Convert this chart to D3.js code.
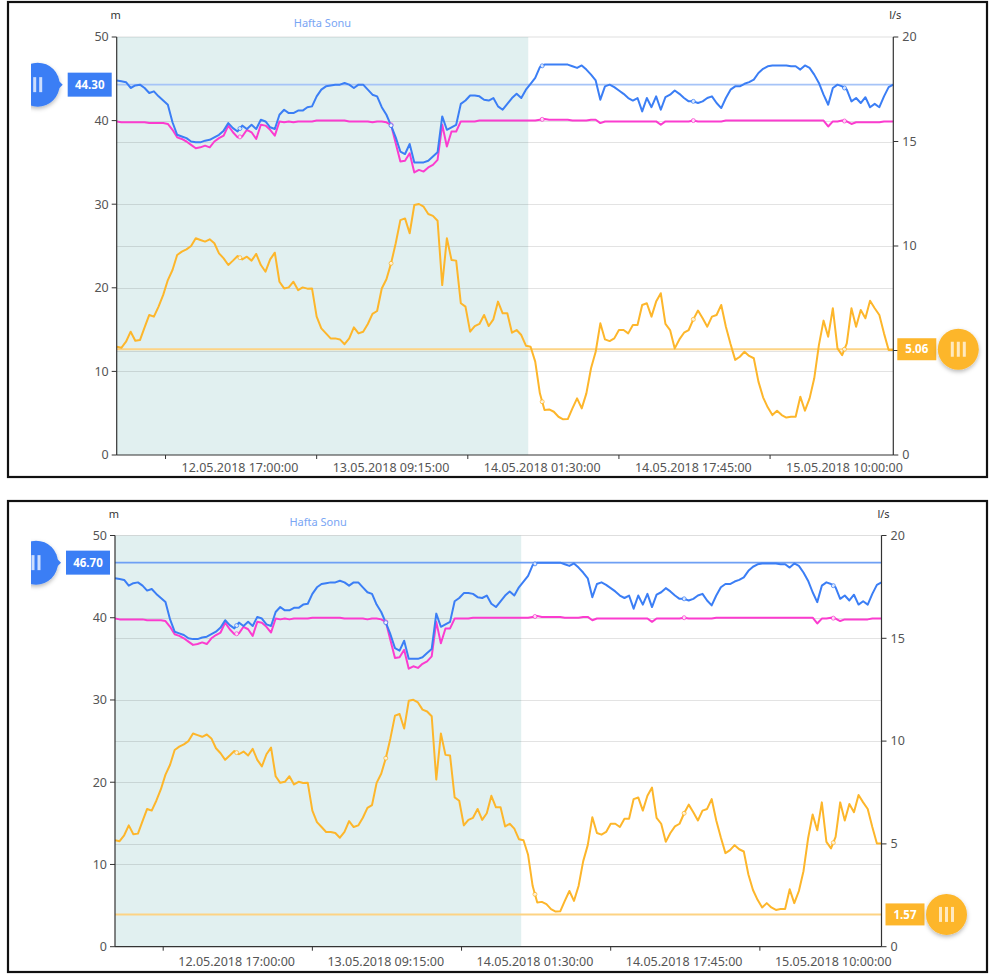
<!DOCTYPE html>
<html>
<head>
<meta charset="utf-8">
<script src="https://cdn.jsdelivr.net/npm/d3@7"></script>
<style>
  html, body { margin: 0; padding: 0; background: #fff; }
  svg { display: block; }
  text { font-family: "Noto Sans", "Open Sans", sans-serif; }
</style>
</head>
<body>
<svg id="chart" width="990" height="976"></svg>
<script>
// Readings every 30 minutes, starting 12.05.2018 03:45
const seriesStart = "12.05.2018 03:45:00";
const stepMinutes = 30;

// Water level at the tank inlet (m)
const levelInlet = [
  44.8, 44.7, 44.6, 43.9, 44.2, 44.3, 43.9, 43.3, 43.5, 42.9,
  42.4, 41.9, 39.8, 38.3, 38.1, 37.9, 37.5, 37.4, 37.4, 37.6,
  37.7, 38.0, 38.3, 38.8, 39.7, 39.1, 38.7, 39.4, 39.0, 39.5,
  39.0, 40.1, 39.9, 39.2, 39.0, 40.7, 41.3, 40.9, 40.9, 41.2,
  41.2, 41.6, 41.7, 42.9, 43.7, 44.1, 44.2, 44.3, 44.3, 44.5,
  44.3, 43.9, 44.3, 44.3, 43.7, 43.1, 42.9, 41.6, 40.7, 39.4,
  38.0, 36.3, 36.0, 37.2, 35.0, 35.0, 35.0, 35.2, 35.7, 36.2,
  40.5, 38.9, 39.2, 39.5, 42.0, 42.4, 43.0, 43.0, 42.9, 42.5,
  42.4, 42.7, 41.7, 41.3, 42.0, 42.7, 43.2, 42.7, 43.7, 44.4,
  45.1, 46.4, 46.7, 46.7, 46.7, 46.7, 46.7, 46.7, 46.5, 46.3,
  46.6, 46.1, 45.5, 44.8, 42.5, 44.1, 44.3, 44.0, 43.6, 43.2,
  42.7, 42.4, 42.7, 41.1, 42.7, 41.6, 42.9, 41.3, 42.8, 43.1,
  43.6, 43.2, 42.7, 42.3, 42.3, 42.1, 42.3, 42.7, 42.9, 42.1,
  41.5, 42.7, 43.7, 44.1, 44.1, 44.4, 44.6, 44.9, 45.7, 46.2,
  46.5, 46.6, 46.6, 46.6, 46.6, 46.5, 46.5, 46.1, 46.6, 46.3,
  45.5, 44.5, 43.1, 41.9, 43.9, 44.3, 44.1, 43.7, 42.3, 42.7,
  42.1, 42.8, 41.6, 42.0, 41.6, 42.9, 44.0, 44.3
];

// Water level at the outlet (m)
const levelOutlet = [
  39.9, 39.8, 39.8, 39.8, 39.8, 39.8, 39.8, 39.7, 39.7, 39.7,
  39.7, 39.6, 38.9, 38.0, 37.8, 37.5, 37.1, 36.7, 36.8, 37.0,
  36.8, 37.5, 37.9, 38.2, 39.4, 38.6, 38.0, 38.1, 38.9, 38.6,
  37.8, 39.5, 39.4, 38.9, 38.2, 39.9, 39.8, 39.9, 39.8, 39.9,
  39.9, 39.9, 39.9, 40.0, 40.0, 40.0, 40.0, 40.0, 40.0, 40.0,
  39.9, 39.9, 39.9, 39.9, 39.9, 39.8, 39.9, 39.9, 39.8, 39.5,
  37.3, 35.1, 35.2, 36.1, 33.8, 34.1, 33.9, 34.4, 34.7, 35.3,
  39.5, 36.9, 38.7, 38.7, 39.9, 39.9, 39.9, 39.9, 40.0, 40.0,
  40.0, 40.0, 40.0, 40.0, 40.0, 40.0, 40.0, 40.0, 40.0, 40.0,
  40.0, 40.1, 40.2, 40.1, 40.1, 40.1, 40.1, 40.1, 40.0, 40.0,
  40.0, 40.0, 40.1, 40.1, 39.7, 39.9, 39.9, 39.9, 39.9, 39.9,
  39.9, 39.9, 39.9, 39.9, 39.9, 39.9, 39.9, 39.5, 39.9, 39.9,
  39.9, 39.9, 39.9, 39.9, 40.0, 39.9, 39.9, 39.9, 39.9, 39.9,
  39.9, 40.0, 40.0, 40.0, 40.0, 40.0, 40.0, 40.0, 40.0, 40.0,
  40.0, 40.0, 40.0, 40.0, 40.0, 40.0, 40.0, 40.0, 40.0, 40.0,
  40.0, 40.0, 40.0, 39.3, 39.9, 39.9, 40.0, 39.9, 39.6, 39.8,
  39.8, 39.8, 39.8, 39.8, 39.8, 39.9, 39.9, 39.9
];

// Flow (l/s)
const flow = [
  5.18, 5.13, 5.42, 5.90, 5.47, 5.50, 6.11, 6.70, 6.62, 7.10,
  7.66, 8.37, 8.85, 9.57, 9.73, 9.84, 10.0, 10.37, 10.29, 10.21,
  10.32, 10.13, 9.65, 9.41, 9.09, 9.30, 9.52, 9.36, 9.49, 9.30,
  9.62, 9.09, 8.77, 9.36, 9.68, 8.29, 7.97, 8.02, 8.29, 7.89,
  8.02, 7.96, 7.97, 6.62, 6.06, 5.82, 5.58, 5.58, 5.53, 5.30,
  5.58, 6.11, 5.82, 5.90, 6.27, 6.75, 6.89, 7.97, 8.41, 9.17,
  10.13, 11.24, 11.32, 10.61, 11.96, 12.01, 11.88, 11.53, 11.44, 11.21,
  8.13, 10.37, 9.33, 9.30, 7.26, 7.10, 5.90, 6.17, 6.27, 6.70,
  6.17, 6.49, 7.34, 6.78, 6.78, 5.85, 5.98, 5.74, 5.23, 5.18,
  4.47, 2.95, 2.15, 2.18, 2.07, 1.83, 1.71, 1.72, 2.23, 2.71,
  2.23, 2.95, 4.15, 4.94, 6.30, 5.53, 5.45, 5.58, 5.98, 5.98,
  5.82, 6.22, 6.22, 7.18, 7.26, 6.62, 7.34, 7.74, 6.27, 5.98,
  5.10, 5.53, 5.85, 5.98, 6.49, 6.91, 6.54, 6.14, 6.62, 6.70,
  7.18, 6.14, 5.31, 4.55, 4.70, 4.94, 4.74, 4.63, 3.51, 2.76,
  2.28, 1.91, 2.12, 1.91, 1.79, 1.83, 1.83, 2.79, 2.12, 2.71,
  3.67, 5.26, 6.43, 5.66, 7.02, 5.10, 4.78, 5.34, 7.02, 6.14,
  6.94, 6.54, 7.38, 7.02, 6.70, 5.82, 5.02, 5.02
];

// Axis annotations
const timeLabels = ["12.05.2018 17:00:00", "13.05.2018 09:15:00", "14.05.2018 01:30:00",
                    "14.05.2018 17:45:00", "15.05.2018 10:00:00"];
const levelTicks = [0, 10, 20, 30, 40, 50];
const flowTicks = [0, 5, 10, 15, 20];
const levelUnit = "m";
const flowUnit = "l/s";

// Weekend band
const weekendLabel = "Hafta Sonu";
const weekendRange = ["12.05.2018 03:45:00", "14.05.2018 00:00:00"];

// Alarm limits set by the draggable handles, one per panel
const levelLimits = [44.30, 46.70];
const flowLimits = [5.06, 1.57];

// ---------------------------------------------------------------
const parseTime = d3.timeParse("%d.%m.%Y %H:%M:%S");
const t0 = parseTime(seriesStart);
const times = levelInlet.map((_, i) => d3.timeMinute.offset(t0, i * stepMinutes));

const COLORS = {
  inlet: "#3b7ef5",
  outlet: "#fb3ccf",
  flow: "#fdb62b",
  handleBlue: "#3b7ef5",
  handleOrange: "#fdb62b",
  band: "#e1f0f0",
  axis: "#333",
  tick: "#555"
};

const panels = [
  { frame: { x: 8, y: 2, w: 979, h: 475 }, plot: { l: 116.7, r: 893.3, t: 37, b: 455 },
    xLabelDy: 17, levelLineColor: "#a6c4f7" },
  { frame: { x: 8, y: 501, w: 979, h: 471 }, plot: { l: 115, r: 881.5, t: 535.5, b: 946.7 },
    xLabelDy: 19, levelLineColor: "#6e9ff4" }
];

const svg = d3.select("#chart");
const defs = svg.append("defs");
const shadow = defs.append("filter").attr("id", "handleShadow")
  .attr("x", "-50%").attr("y", "-50%").attr("width", "200%").attr("height", "200%");
shadow.append("feDropShadow").attr("dx", 0).attr("dy", 2).attr("stdDeviation", 2.2)
  .attr("flood-color", "#000").attr("flood-opacity", 0.28);

function valueAt(series, t) {
  const i = d3.bisector(d => d).right(times, t);
  if (i <= 0) return series[0];
  if (i >= times.length) return series[series.length - 1];
  const a = times[i - 1], b = times[i];
  const f = (t - a) / (b - a);
  return series[i - 1] + f * (series[i] - series[i - 1]);
}

panels.forEach((p, k) => {
  const { l, r, t, b } = p.plot;
  const g = svg.append("g");

  // Frame around the panel
  g.append("rect")
    .attr("x", p.frame.x).attr("y", p.frame.y)
    .attr("width", p.frame.w).attr("height", p.frame.h)
    .attr("fill", "#fff").attr("stroke", "#111").attr("stroke-width", 2.2);

  const x = d3.scaleTime().domain([times[0], times[times.length - 1]]).range([l, r]);
  const yL = d3.scaleLinear().domain([0, 50]).range([b, t]);
  const yR = d3.scaleLinear().domain([0, 20]).range([b, t]);

  const clipId = "plotClip" + k;
  defs.append("clipPath").attr("id", clipId)
    .append("rect").attr("x", l).attr("y", t - 2).attr("width", r - l).attr("height", b - t + 4);

  // Weekend band
  const w0 = parseTime(weekendRange[0]), w1 = parseTime(weekendRange[1]);
  g.append("rect")
    .attr("x", x(w0)).attr("y", t)
    .attr("width", x(w1) - x(w0)).attr("height", b - t)
    .attr("fill", COLORS.band);
  g.append("text")
    .attr("x", (x(w0) + x(w1)) / 2).attr("y", t - 10)
    .attr("text-anchor", "middle")
    .attr("font-size", 11).attr("fill", "#79a5f4")
    .text(weekendLabel);

  // Grid lines for both axes
  const grid = g.append("g").attr("stroke", "rgba(0,0,0,0.11)").attr("stroke-width", 1);
  levelTicks.filter(v => v > 0 && v < 50).forEach(v => {
    grid.append("line").attr("x1", l).attr("x2", r)
      .attr("y1", Math.round(yL(v)) + 0.5).attr("y2", Math.round(yL(v)) + 0.5);
  });
  flowTicks.filter(v => v > 0 && v < 20).forEach(v => {
    grid.append("line").attr("x1", l).attr("x2", r)
      .attr("y1", Math.round(yR(v)) + 0.5).attr("y2", Math.round(yR(v)) + 0.5);
  });
  g.append("line").attr("x1", l).attr("x2", r).attr("y1", t).attr("y2", t)
    .attr("stroke", "rgba(0,0,0,0.13)").attr("stroke-width", 1);

  // Limit lines
  g.append("line").attr("x1", l).attr("x2", r)
    .attr("y1", yL(levelLimits[k])).attr("y2", yL(levelLimits[k]))
    .attr("stroke", p.levelLineColor).attr("stroke-width", 1.6);
  g.append("line").attr("x1", l).attr("x2", r)
    .attr("y1", yR(flowLimits[k])).attr("y2", yR(flowLimits[k]))
    .attr("stroke", "#fdd384").attr("stroke-width", 2);

  // Series
  const plotG = g.append("g").attr("clip-path", `url(#${clipId})`);
  const lineL = d3.line().x((d, i) => x(times[i])).y(d => yL(d));
  const lineR = d3.line().x((d, i) => x(times[i])).y(d => yR(d));
  const series = [
    { data: flow, gen: lineR, scale: yR, color: COLORS.flow },
    { data: levelOutlet, gen: lineL, scale: yL, color: COLORS.outlet },
    { data: levelInlet, gen: lineL, scale: yL, color: COLORS.inlet }
  ];
  series.forEach(s => {
    plotG.append("path").datum(s.data)
      .attr("d", s.gen)
      .attr("fill", "none").attr("stroke", s.color)
      .attr("stroke-width", 2).attr("stroke-linejoin", "round");
  });
  // Small hollow symbols at the labelled timestamps
  series.forEach(s => {
    timeLabels.forEach(lbl => {
      const tt = parseTime(lbl);
      plotG.append("circle")
        .attr("cx", x(tt)).attr("cy", s.scale(valueAt(s.data, tt)))
        .attr("r", 2).attr("fill", "#fff")
        .attr("stroke", s.color).attr("stroke-width", 1).attr("opacity", 0.8);
    });
  });

  const fy = yR(flowLimits[k]);

  // Left axis
  const ax = g.append("g").attr("font-size", 12.5).attr("fill", COLORS.tick);
  ax.append("line").attr("x1", l).attr("x2", l).attr("y1", t).attr("y2", b)
    .attr("stroke", COLORS.axis).attr("stroke-width", 1.2);
  levelTicks.forEach(v => {
    ax.append("line").attr("x1", l - 5).attr("x2", l).attr("y1", yL(v)).attr("y2", yL(v))
      .attr("stroke", COLORS.axis);
    ax.append("text").attr("x", l - 8).attr("y", yL(v)).attr("dy", "0.35em")
      .attr("text-anchor", "end").text(v);
  });
  ax.append("text").attr("x", l - 1).attr("y", t - 18)
    .attr("text-anchor", "middle").attr("font-size", 11).attr("fill", "#333").text(levelUnit);

  // Right axis (a label hidden under the flow handle box is left out)
  ax.append("line").attr("x1", r).attr("x2", r).attr("y1", t).attr("y2", b)
    .attr("stroke", COLORS.axis).attr("stroke-width", 1.2);
  flowTicks.forEach(v => {
    ax.append("line").attr("x1", r).attr("x2", r + 5).attr("y1", yR(v)).attr("y2", yR(v))
      .attr("stroke", COLORS.axis);
    if (Math.abs(yR(v) - fy) > 14) {
      ax.append("text").attr("x", r + 9).attr("y", yR(v)).attr("dy", "0.35em")
        .attr("text-anchor", "start").text(v);
    }
  });
  ax.append("text").attr("x", r + 2).attr("y", t - 18)
    .attr("text-anchor", "middle").attr("font-size", 11).attr("fill", "#333").text(flowUnit);

  // Time axis: labels at their timestamps, tick marks halfway between them
  ax.append("line").attr("x1", l).attr("x2", r).attr("y1", b).attr("y2", b)
    .attr("stroke", COLORS.axis).attr("stroke-width", 1.2);
  timeLabels.forEach(lbl => {
    const tt = parseTime(lbl);
    const tickT = d3.timeHour.offset(tt, -8);
    ax.append("line").attr("x1", x(tickT)).attr("x2", x(tickT)).attr("y1", b).attr("y2", b + 4)
      .attr("stroke", COLORS.axis);
    ax.append("text").attr("x", x(tt)).attr("y", b + p.xLabelDy)
      .attr("text-anchor", "middle").text(lbl);
  });

  // Level limit handle (left)
  const clipH = "handleClip" + k;
  defs.append("clipPath").attr("id", clipH)
    .append("rect").attr("x", 31).attr("y", p.frame.y).attr("width", 100).attr("height", p.frame.h);
  const hy = yL(levelLimits[k]);
  const hb = g.append("g").attr("clip-path", `url(#${clipH})`);
  const hcx = l - 79;
  hb.append("circle").attr("cx", hcx).attr("cy", hy).attr("r", 22)
    .attr("fill", COLORS.handleBlue).attr("filter", "url(#handleShadow)");
  hb.append("path")
    .attr("d", `M${hcx + 20},${hy - 5} L${hcx + 25},${hy} L${hcx + 20},${hy + 5} Z`)
    .attr("fill", COLORS.handleBlue);
  [-9, -3, 3].forEach(dx => {
    hb.append("rect").attr("x", hcx + dx - 1.5).attr("y", hy - 7.5)
      .attr("width", 3).attr("height", 15).attr("fill", "rgba(255,255,255,0.75)");
  });
  g.append("rect").attr("x", l - 49).attr("y", hy - 12).attr("width", 44).attr("height", 24)
    .attr("fill", COLORS.handleBlue);
  g.append("text").attr("x", l - 27).attr("y", hy).attr("dy", "0.36em")
    .attr("text-anchor", "middle").attr("font-size", 11.5).attr("font-weight", "bold")
    .attr("fill", "#fff").text(levelLimits[k].toFixed(2));

  // Flow limit handle (right)
  g.append("rect").attr("x", r + 4).attr("y", fy - 11).attr("width", 39).attr("height", 22)
    .attr("fill", COLORS.handleOrange);
  g.append("text").attr("x", r + 23.5).attr("y", fy).attr("dy", "0.36em")
    .attr("text-anchor", "middle").attr("font-size", 11.5).attr("font-weight", "bold")
    .attr("fill", "#fff").text(flowLimits[k].toFixed(2));
  const fcx = r + 65;
  g.append("circle").attr("cx", fcx).attr("cy", fy).attr("r", 20.5)
    .attr("fill", COLORS.handleOrange).attr("filter", "url(#handleShadow)");
  [-6, 0, 6].forEach(dx => {
    g.append("rect").attr("x", fcx + dx - 1.5).attr("y", fy - 7.5)
      .attr("width", 3).attr("height", 15).attr("fill", "rgba(255,255,255,0.7)");
  });
});
</script>
</body>
</html>
